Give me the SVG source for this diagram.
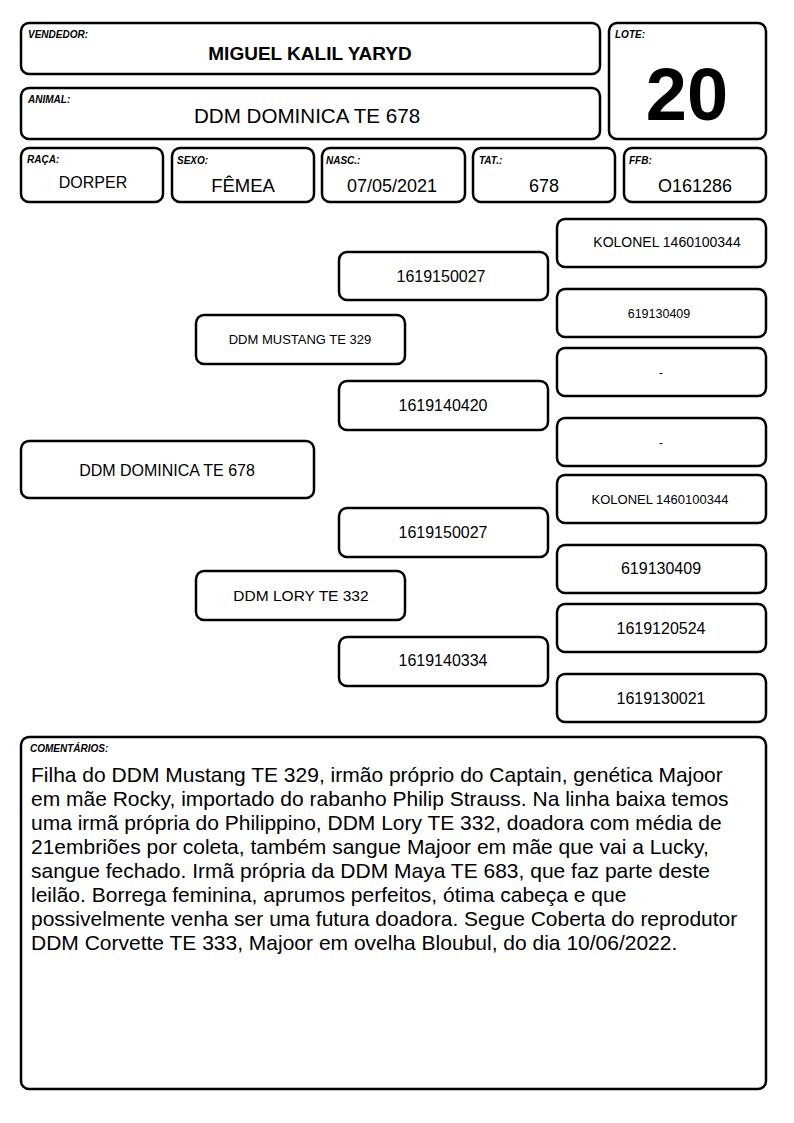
<svg xmlns="http://www.w3.org/2000/svg" width="794" height="1123" viewBox="0 0 794 1123">
<style>
.b{fill:#fff;stroke:#000;stroke-width:2.5}
.l{font-family:"Liberation Sans",Arial,sans-serif;font-size:10px;font-weight:bold;font-style:italic;fill:#000}
.t{font-family:"Liberation Sans",Arial,sans-serif;fill:#000;text-anchor:middle}
.c{font-family:"Liberation Sans",Arial,sans-serif;font-size:21px;fill:#000}
</style>
<rect width="794" height="1123" fill="#fff"/>
<g id="vendedor"><rect class="b" x="21" y="23" width="579" height="51" rx="8"/><text class="l" x="28" y="38">VENDEDOR:</text><text class="t" x="310" y="60" font-size="19" font-weight="bold">MIGUEL KALIL YARYD</text></g>
<g id="animal"><rect class="b" x="21" y="88" width="579" height="51" rx="8"/><text class="l" x="28" y="103">ANIMAL:</text><text class="t" x="307" y="123" font-size="20.6">DDM DOMINICA TE 678</text></g>
<g id="lote"><rect class="b" x="609" y="23" width="157" height="116" rx="8"/><text class="l" x="615" y="38">LOTE:</text><text class="t" x="687" y="120" font-size="74" font-weight="bold">20</text></g>
<g id="raca"><rect class="b" x="21" y="148" width="142" height="54" rx="8"/><text class="l" x="27" y="163">RAÇA:</text><text class="t" x="93" y="188" font-size="16">DORPER</text></g>
<g id="sexo"><rect class="b" x="172" y="148" width="142" height="54" rx="8"/><text class="l" x="177" y="164">SEXO:</text><text class="t" x="243" y="192" font-size="18.5">FÊMEA</text></g>
<g id="nasc"><rect class="b" x="322" y="148" width="143" height="54" rx="8"/><text class="l" x="326" y="164">NASC.:</text><text class="t" x="392" y="192" font-size="18">07/05/2021</text></g>
<g id="tat"><rect class="b" x="473" y="148" width="142" height="54" rx="8"/><text class="l" x="479" y="164">TAT.:</text><text class="t" x="544" y="192" font-size="18">678</text></g>
<g id="ffb"><rect class="b" x="624" y="148" width="142" height="54" rx="8"/><text class="l" x="629" y="164">FFB:</text><text class="t" x="695" y="192" font-size="18">O161286</text></g>
<g id="p0"><rect class="b" x="21" y="441" width="293" height="57" rx="8"/><text class="t" x="167" y="476" font-size="16">DDM DOMINICA TE 678</text></g>
<g id="p1"><rect class="b" x="196" y="315" width="209" height="49" rx="8"/><text class="t" x="300" y="344" font-size="13">DDM MUSTANG TE 329</text></g>
<g id="p2"><rect class="b" x="196" y="571" width="209" height="49" rx="8"/><text class="t" x="301" y="601" font-size="15.5">DDM LORY TE 332</text></g>
<g id="p3"><rect class="b" x="339" y="252" width="209" height="48" rx="8"/><text class="t" x="441" y="282" font-size="16">1619150027</text></g>
<g id="p4"><rect class="b" x="339" y="381" width="209" height="49" rx="8"/><text class="t" x="443" y="411" font-size="16">1619140420</text></g>
<g id="p5"><rect class="b" x="339" y="508" width="209" height="49" rx="8"/><text class="t" x="443" y="538" font-size="16">1619150027</text></g>
<g id="p6"><rect class="b" x="339" y="637" width="209" height="49" rx="8"/><text class="t" x="443" y="666" font-size="16">1619140334</text></g>
<g id="p7"><rect class="b" x="557" y="219" width="209" height="48" rx="8"/><text class="t" x="667" y="247" font-size="14">KOLONEL 1460100344</text></g>
<g id="p8"><rect class="b" x="557" y="289" width="209" height="48" rx="8"/><text class="t" x="659" y="318" font-size="12.5">619130409</text></g>
<g id="p9"><rect class="b" x="557" y="348" width="209" height="48" rx="8"/><text class="t" x="661" y="377" font-size="12">-</text></g>
<g id="p10"><rect class="b" x="557" y="418" width="209" height="48" rx="8"/><text class="t" x="661" y="447" font-size="12">-</text></g>
<g id="p11"><rect class="b" x="557" y="475" width="209" height="48" rx="8"/><text class="t" x="660" y="504" font-size="13">KOLONEL 1460100344</text></g>
<g id="p12"><rect class="b" x="557" y="545" width="209" height="48" rx="8"/><text class="t" x="661" y="574" font-size="16">619130409</text></g>
<g id="p13"><rect class="b" x="557" y="604" width="209" height="48" rx="8"/><text class="t" x="661" y="634" font-size="16">1619120524</text></g>
<g id="p14"><rect class="b" x="557" y="674" width="209" height="48" rx="8"/><text class="t" x="661" y="704" font-size="16">1619130021</text></g>
<g id="comentarios"><rect class="b" x="21" y="737" width="745" height="352" rx="8"/><text class="l" x="30" y="752">COMENTÁRIOS:</text>
<text class="c" x="31" y="782">Filha do DDM Mustang TE 329, irmão próprio do Captain, genética Majoor</text>
<text class="c" x="31" y="806">em mãe Rocky, importado do rabanho Philip Strauss. Na linha baixa temos</text>
<text class="c" x="31" y="830">uma irmã própria do Philippino, DDM Lory TE 332, doadora com média de</text>
<text class="c" x="31" y="854">21embriões por coleta, também sangue Majoor em mãe que vai a Lucky,</text>
<text class="c" x="31" y="878">sangue fechado. Irmã própria da DDM Maya TE 683, que faz parte deste</text>
<text class="c" x="31" y="902">leilão. Borrega feminina, aprumos perfeitos, ótima cabeça e que</text>
<text class="c" x="31" y="926">possivelmente venha ser uma futura doadora. Segue Coberta do reprodutor</text>
<text class="c" x="31" y="950">DDM Corvette TE 333, Majoor em ovelha Bloubul, do dia 10/06/2022.</text>
</g>
</svg>
